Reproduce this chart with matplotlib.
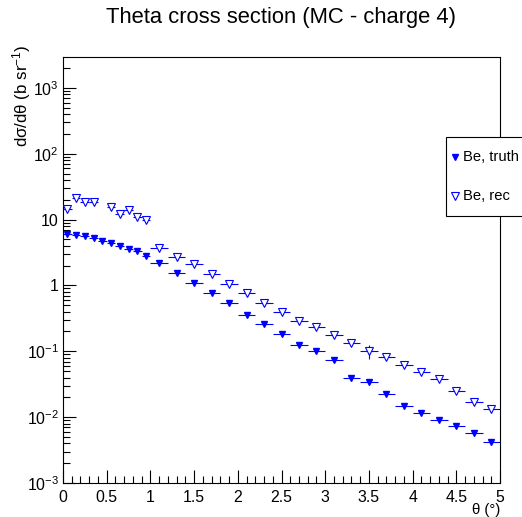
import numpy as np
import matplotlib
matplotlib.use("Agg")
import matplotlib.pyplot as plt
from matplotlib.lines import Line2D
from matplotlib.patches import Rectangle
from matplotlib.ticker import FixedLocator, FuncFormatter, NullFormatter

plt.rcParams['font.family'] = ['Liberation Sans', 'DejaVu Sans']
plt.rcParams['mathtext.default'] = 'regular'

# bin centres and half widths (0-1 in 0.1 bins, 1-5 in 0.2 bins)
theta = [0.05, 0.15, 0.25, 0.35, 0.45, 0.55, 0.65, 0.75, 0.85, 0.95,
         1.1, 1.3, 1.5, 1.7, 1.9, 2.1, 2.3, 2.5, 2.7, 2.9,
         3.1, 3.3, 3.5, 3.7, 3.9, 4.1, 4.3, 4.5, 4.7, 4.9]
half_w = [0.05] * 10 + [0.1] * 20

truth = [6.0, 5.8, 5.6, 5.3, 4.7, 4.4, 3.96, 3.56, 3.36, 2.79,
         2.18, 1.54, 1.08, 0.76, 0.55, 0.357, 0.258, 0.186, 0.124, 0.100,
         0.074, 0.040, 0.0347, 0.0225, 0.0146, 0.0117, 0.0091, 0.0073, 0.0058, 0.0042]

rec = [14.6, 21.2, 18.2, 18.2, np.nan, 15.5, 12.1, 13.9, 10.8, 9.7,
       3.73, 2.69, 2.11, 1.50, 1.07, 0.76, 0.55, 0.39, 0.29, 0.232,
       0.177, 0.133, 0.101, 0.083, 0.061, 0.049, 0.038, 0.0248, 0.0172, 0.0135]
rec_err = [0] * 22 + [0.025] + [0] * 7

y_decades = [-3, -2, -1, 0, 1, 2, 3]

blue = '#0000ff'

fig = plt.figure(figsize=(5.22, 5.17), dpi=100)
ax = fig.add_axes([63/522, 1-483/517, (500-63)/522, (483-57)/517])

ax.errorbar(theta, truth, xerr=half_w, fmt='v', color=blue, ms=3.8,
            elinewidth=0.8, capsize=0, zorder=3)
ax.errorbar(theta, rec, xerr=half_w, yerr=rec_err, fmt='v', color=blue, ms=5.2,
            mfc='white', mec=blue, mew=0.8, elinewidth=0.8, capsize=0, zorder=3)

ax.set_yscale('log')
ax.set_xlim(0, 5)
ax.set_ylim(1e-3, 2950)

ax.xaxis.set_major_locator(FixedLocator(np.arange(0, 5.01, 0.5)))
ax.xaxis.set_minor_locator(FixedLocator(np.arange(0, 5.01, 0.1)))
ax.xaxis.set_major_formatter(FuncFormatter(lambda v, p: '%g' % v))

ax.yaxis.set_major_locator(FixedLocator([10.0 ** e for e in y_decades]))
minor_y = [m * 10.0 ** e for e in y_decades for m in range(2, 10) if m * 10.0 ** e < 2950]
ax.yaxis.set_minor_locator(FixedLocator(minor_y))
ax.yaxis.set_minor_formatter(NullFormatter())

def ylab(v, p):
    e = int(round(np.log10(v)))
    if e == 0:
        return '1'
    if e == 1:
        return '10'
    return '$10^{%d}$' % e
ax.yaxis.set_major_formatter(FuncFormatter(ylab))

ax.tick_params(which='both', direction='in', top=False, right=False,
               labelsize=11.4, width=0.8, color='black')
ax.tick_params(which='major', length=9.5)
ax.tick_params(which='minor', length=4.8)
ax.tick_params(axis='x', pad=5)
ax.tick_params(axis='y', pad=3)
for s in ax.spines.values():
    s.set_linewidth(0.8)

# axis titles are placed by hand, ROOT style
ax.xaxis.label.set_visible(False)
ax.yaxis.label.set_visible(False)
ax.xaxis.offsetText.set_visible(False)
ax.yaxis.offsetText.set_visible(False)

fig.text(281/522, 1-18/517, 'Theta cross section (MC - charge 4)',
         ha='center', va='center', fontsize=15.8)
fig.text(500/522, 1-510/517, 'θ (°)', ha='right', va='center', fontsize=10.8)
fig.text(22/522, 1-45/517, 'dσ/dθ (b sr$^{-1}$)', rotation=90,
         ha='center', va='top', fontsize=12.2)

# legend box (runs past the right edge, as in the reference)
box = Rectangle((446/522, 1-216/517), 90/522, 79/517, transform=fig.transFigure,
                facecolor='white', edgecolor='black', linewidth=0.8, zorder=5)
fig.add_artist(box)
fig.add_artist(Line2D([455/522], [1-157/517], transform=fig.transFigure,
                      marker='v', color=blue, ms=3.8, ls='none', zorder=6))
fig.add_artist(Line2D([455/522], [1-196/517], transform=fig.transFigure,
                      marker='v', color=blue, mfc='white', mew=0.8, ms=5.2,
                      ls='none', zorder=6))
fig.text(463/522, 1-157/517, 'Be, truth', ha='left', va='center', fontsize=10.6, zorder=6)
fig.text(463/522, 1-196/517, 'Be, rec', ha='left', va='center', fontsize=10.6, zorder=6)

fig.savefig('out.png', dpi=100)
